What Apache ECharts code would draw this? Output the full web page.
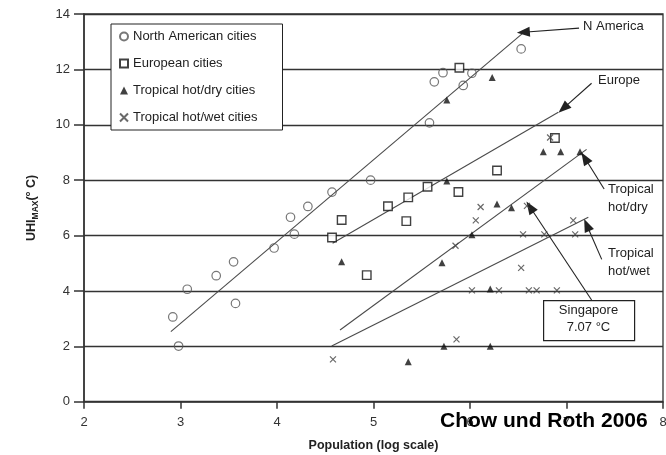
<!DOCTYPE html>
<html>
<head>
<meta charset="utf-8">
<script src="https://cdn.jsdelivr.net/npm/echarts@6/dist/echarts.min.js"></script>
<style>html,body{margin:0;padding:0;background:#fff;}#c{width:666px;height:455px;}</style>
</head>
<body>
<div id="c"></div>
<script>
// ---- data ----
const xTicks = [2, 3, 4, 5, 6, 7, 8];
const yTicks = [0, 2, 4, 6, 8, 10, 12, 14];

const seriesNames = ['North American cities', 'European cities', 'Tropical hot/dry cities', 'Tropical hot/wet cities'];

const naX = [2.92, 2.98, 3.07, 3.37, 3.55, 3.57, 3.97, 4.18, 4.14, 4.32, 4.57, 4.97, 5.58, 5.63, 5.72, 5.93, 6.02, 6.53];
const naY = [3.06, 2.01, 4.06, 4.55, 5.05, 3.55, 5.55, 6.05, 6.66, 7.05, 7.57, 8.0, 10.07, 11.55, 11.88, 11.42, 11.86, 12.74];

const euX = [4.57, 4.67, 4.93, 5.15, 5.34, 5.36, 5.56, 5.88, 5.89, 6.28, 6.88];
const euY = [5.93, 6.56, 4.57, 7.06, 6.52, 7.38, 7.76, 7.57, 12.06, 8.35, 9.52];

const dryX = [4.67, 5.36, 5.71, 5.73, 5.76, 5.76, 6.02, 6.21, 6.21, 6.23, 6.28, 6.43, 6.76, 6.94, 7.14];
const dryY = [5.05, 1.44, 5.02, 2.0, 7.97, 10.89, 6.03, 4.07, 2.0, 11.71, 7.14, 7.0, 9.03, 9.03, 9.03];

const wetX = [4.58, 5.85, 5.86, 6.02, 6.06, 6.11, 6.30, 6.53, 6.55, 6.59, 6.61, 6.69, 6.77, 6.83, 6.90, 7.07, 7.09];
const wetY = [1.53, 5.63, 2.25, 4.02, 6.55, 7.03, 4.02, 4.83, 6.04, 7.07, 4.02, 4.02, 6.04, 9.54, 4.02, 6.55, 6.04];

// regression lines: [x start, x end], [y start, y end]
const naFitX = [2.90, 6.545];   const naFitY = [2.53, 13.30];
const euFitX = [4.576, 6.915];  const euFitY = [5.72, 10.45];
const dryFitX = [4.653, 7.208]; const dryFitY = [2.59, 9.11];
const wetFitX = [4.567, 7.226]; const wetFitY = [2.01, 6.66];

// annotation arrows: [from], [to] in data units
const arrowFrom = [[7.13, 13.49], [7.26, 11.5], [7.39, 7.68], [7.365, 5.14], [7.26, 3.67]];
const arrowTo   = [[6.553, 13.34], [6.967, 10.59], [7.19, 8.8], [7.21, 6.38], [6.622, 7.03]];

// ---- build ----
const FONT = '"Liberation Sans", Arial, Helvetica, sans-serif';
const zip = (xs, ys) => xs.map((x, i) => [x, ys[i]]);

const chart = echarts.init(document.getElementById('c'), null, {renderer: 'canvas'});

const fitStyle = {color: '#4a4a4a', width: 1.1};
function fitSeries(xs, ys) {
  return {type: 'line', data: zip(xs, ys), symbol: 'none', lineStyle: fitStyle,
          silent: true, z: 2, animation: false, legendHoverLink: false, tooltip: {show: false}};
}

const option = {
  animation: false,
  backgroundColor: '#fff',
  textStyle: {fontFamily: FONT},
  grid: {left: 84, right: 3, top: 14, bottom: 53.3, show: true, borderColor: '#333', borderWidth: 1.3,
         backgroundColor: 'transparent', outerBoundsMode: 'none', containLabel: false},
  legend: {
    data: seriesNames,
    orient: 'vertical', left: 111, top: 24,
    padding: [6, 25, 6, 8], itemGap: 14, itemWidth: 8, itemHeight: 8,
    backgroundColor: '#fff', borderColor: '#222', borderWidth: 1, borderRadius: 0,
    textStyle: {fontSize: 13, color: '#222', fontFamily: FONT},
    selectedMode: false
  },
  xAxis: {
    type: 'value', min: xTicks[0], max: xTicks[xTicks.length - 1], interval: 1,
    name: 'Population (log scale)', nameLocation: 'middle', nameGap: 37,
    nameTextStyle: {fontSize: 12.5, fontWeight: 'bold', color: '#222', fontFamily: FONT},
    axisLine: {show: true, onZero: false, lineStyle: {color: '#333', width: 1.5}},
    axisTick: {show: true, length: 7, lineStyle: {color: '#333', width: 1.5}},
    axisLabel: {fontSize: 13, color: '#333', margin: 14, fontFamily: FONT, showMaxLabel: true, showMinLabel: true},
    splitLine: {show: false}
  },
  yAxis: {
    type: 'value', min: yTicks[0], max: yTicks[yTicks.length - 1], interval: 2,
    name: '{a|UHI}{b|MAX}{a|(° C)}', nameLocation: 'middle', nameGap: 44, nameRotate: 90,
    nameTextStyle: {
      fontFamily: FONT, color: '#222',
      rich: {
        a: {fontSize: 12.5, fontWeight: 'bold', color: '#222', fontFamily: FONT, lineHeight: 16},
        b: {fontSize: 8.5, fontWeight: 'bold', color: '#222', fontFamily: FONT, verticalAlign: 'bottom', lineHeight: 16, padding: [6, 0, 0, 0]}
      }
    },
    axisLine: {show: true, onZero: false, lineStyle: {color: '#333', width: 1.5}},
    axisTick: {show: true, length: 10, lineStyle: {color: '#333', width: 1.5}},
    axisLabel: {fontSize: 13, color: '#333', margin: 14, fontFamily: FONT},
    splitLine: {show: true, lineStyle: {color: '#333', width: 1.3}}
  },
  series: [
    {name: seriesNames[0], type: 'scatter', data: zip(naX, naY), symbol: 'circle', symbolSize: 8.5, z: 5,
     itemStyle: {color: 'rgba(255,255,255,0)', borderColor: '#555', borderWidth: 1.2}},
    {name: seriesNames[1], type: 'scatter', data: zip(euX, euY), symbol: 'rect', symbolSize: 8.5, z: 5,
     itemStyle: {color: '#fff', borderColor: '#111', borderWidth: 1.4}},
    {name: seriesNames[2], type: 'scatter', data: zip(dryX, dryY), symbol: 'triangle', symbolSize: 7, z: 5,
     itemStyle: {color: '#111', borderWidth: 0}},
    {name: seriesNames[3], type: 'scatter', data: zip(wetX, wetY), symbol: 'path://M0,0L10,10M10,0L0,10', symbolSize: 6, z: 5,
     itemStyle: {color: 'rgba(255,255,255,0)', borderColor: '#444', borderWidth: 1.2}},
    fitSeries(naFitX, naFitY),
    fitSeries(euFitX, euFitY),
    fitSeries(dryFitX, dryFitY),
    fitSeries(wetFitX, wetFitY),
    {
      type: 'line', data: [], silent: true, z: 6,
      markLine: {
        silent: true, animation: false,
        symbol: ['none', 'triangle'], symbolSize: [10, 13],
        lineStyle: {color: '#222', width: 1.1, type: 'solid'},
        itemStyle: {color: '#111'},
        label: {show: false},
        emphasis: {disabled: true},
        data: arrowFrom.map((f, i) => [{coord: f}, {coord: arrowTo[i]}])
      }
    }
  ],
  graphic: [
    {type: 'text', left: 583, top: 20, z: 10, style: {text: 'N America', fontSize: 13, fill: '#222', fontFamily: FONT}},
    {type: 'text', left: 598, top: 74, z: 10, style: {text: 'Europe', fontSize: 13, fill: '#222', fontFamily: FONT}},
    {type: 'text', left: 608, top: 180, z: 10, style: {text: 'Tropical\nhot/dry', fontSize: 13, lineHeight: 18, fill: '#222', fontFamily: FONT}},
    {type: 'text', left: 608, top: 244, z: 10, style: {text: 'Tropical\nhot/wet', fontSize: 13, lineHeight: 18, fill: '#222', fontFamily: FONT}},
    {type: 'rect', left: 543, top: 300, z: 10, shape: {width: 91, height: 40},
     style: {fill: '#fff', stroke: '#222', lineWidth: 1.2}},
    {type: 'text', left: 543, top: 302, z: 11,
     style: {text: 'Singapore\n7.07 °C', width: 91, align: 'center', fontSize: 13, lineHeight: 17, fill: '#222', fontFamily: FONT, x: 46, textAlign: 'center'}},
    {type: 'text', left: 440, top: 411, z: 12,
     style: {text: 'Chow und Roth 2006', fontSize: 21, fontWeight: 'bold', fill: '#000', fontFamily: FONT}}
  ]
};

chart.setOption(option);
</script>
</body>
</html>
